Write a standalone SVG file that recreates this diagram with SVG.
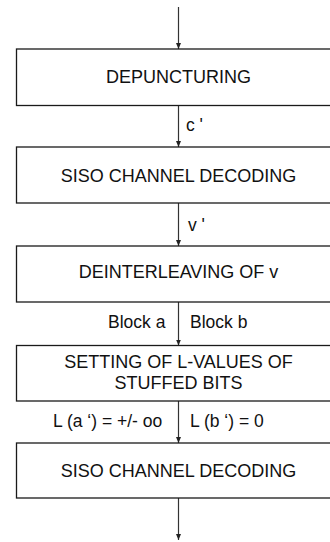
<svg xmlns="http://www.w3.org/2000/svg" width="330" height="542" viewBox="0 0 330 542">
<style>
.box{fill:#fff;stroke:#1a1a1a;stroke-width:1.3}
.t{font-family:"Liberation Sans",Arial,sans-serif;font-size:18px;fill:#111;text-anchor:middle}
.l{font-family:"Liberation Sans",Arial,sans-serif;font-size:17.5px;fill:#111}
.c{stroke:#333;stroke-width:1.2;fill:none;marker-end:url(#ah)}
</style>
<defs>
<marker id="ah" markerWidth="6" markerHeight="8" refX="6" refY="3" orient="auto" markerUnits="userSpaceOnUse" viewBox="0 0 6 6">
<path d="M0,0.5 L6,3 L0,5.5 Z" fill="#222"/>
</marker>
</defs>
<rect width="330" height="542" fill="#fff"/>
<g id="connectors">
<line class="c" x1="178.5" y1="7" x2="178.5" y2="49"/>
<line class="c" x1="178.5" y1="105.5" x2="178.5" y2="147"/>
<line class="c" x1="178.5" y1="203" x2="178.5" y2="246"/>
<line class="c" x1="178.5" y1="302" x2="178.5" y2="345.5"/>
<line class="c" x1="178.5" y1="401" x2="178.5" y2="443"/>
<line class="c" x1="178.5" y1="498" x2="178.5" y2="540"/>
<text class="l" x="186" y="131">c '</text>
<text class="l" x="188" y="231">v '</text>
<text class="l" x="108" y="328">Block a</text>
<text class="l" x="190" y="328">Block b</text>
<text class="l" x="53" y="427">L (a ‘) = +/- oo</text>
<text class="l" x="190" y="427">L (b ‘) = 0</text>
</g>
<g id="n1">
<rect class="box" x="16.5" y="49" width="330" height="56.5"/>
<text class="t" x="178.5" y="83">DEPUNCTURING</text>
</g>
<g id="n2">
<rect class="box" x="16.5" y="147" width="330" height="56"/>
<text class="t" x="178.5" y="182">SISO CHANNEL DECODING</text>
</g>
<g id="n3">
<rect class="box" x="16.5" y="246" width="330" height="56"/>
<text class="t" x="178.5" y="278">DEINTERLEAVING OF v</text>
</g>
<g id="n4">
<rect class="box" x="16.5" y="345.5" width="330" height="55.5"/>
<text class="t" x="178.5" y="368">SETTING OF L-VALUES OF</text>
<text class="t" x="178.5" y="389">STUFFED BITS</text>
</g>
<g id="n5">
<rect class="box" x="16.5" y="443" width="330" height="55"/>
<text class="t" x="178.5" y="477">SISO CHANNEL DECODING</text>
</g>
</svg>
